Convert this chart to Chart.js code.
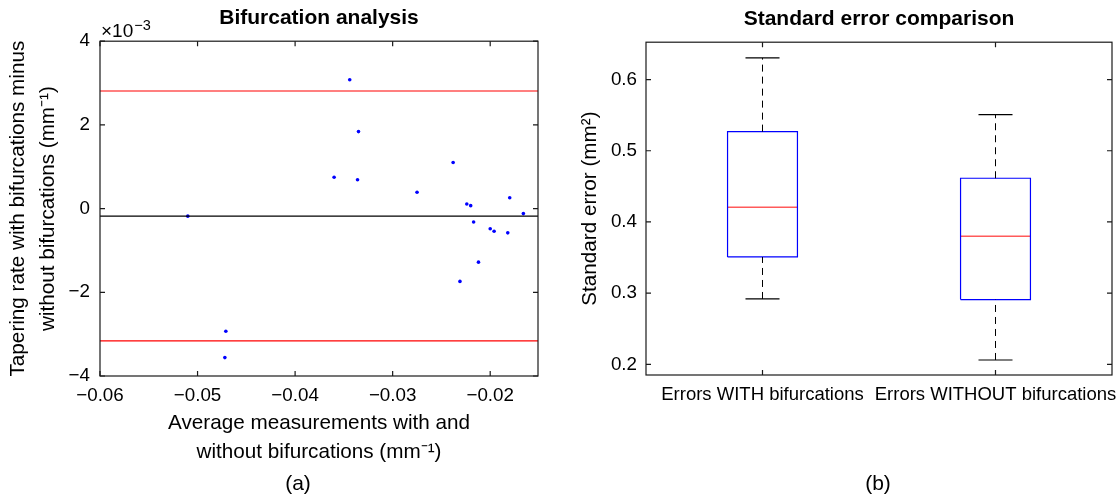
<!DOCTYPE html>
<html lang="en">
<head>
<meta charset="UTF-8">
<title>Bifurcation analysis / Standard error comparison</title>
<script src="https://cdn.jsdelivr.net/npm/chart.js"></script>
<style>
    body { margin: 0; background: #fff; font-family: "Liberation Sans", Arial, sans-serif; }
    .panel { position: absolute; top: 0; width: 560px; height: 500px; }
    .caption { position: absolute; top: 471px; width: 100px; text-align: center; font-size: 21px; line-height: 24px; color: #000; }
</style>
</head>
<body>
<div class="panel" style="left:0"><canvas id="diffChart" width="560" height="500"></canvas></div>
<div class="panel" style="left:560px"><canvas id="errChart" width="560" height="500"></canvas></div>
<div class="caption" style="left:248px">(a)</div>
<div class="caption" style="left:828px">(b)</div>
<script>
// (a) tapering rate differences vs average, y in units of 1e-3
const avgMeasure = [-0.0510, -0.0344, -0.0335, -0.0360, -0.0336, -0.0275, -0.0238, -0.0224, -0.0220, -0.0180,
                    -0.0166, -0.0217, -0.0200, -0.0196, -0.0182, -0.0212, -0.0231, -0.0471, -0.0472];
const tapeDiff = [-0.18, 3.08, 1.84, 0.75, 0.69, 0.39, 1.10, 0.11, 0.07, 0.26,
                  -0.12, -0.32, -0.48, -0.54, -0.58, -1.28, -1.74, -2.93, -3.56];
const meanDiff = -0.18;
const upperLimit = 2.81;
const lowerLimit = -3.16;
const xRangeA = [-0.06, -0.0151];
const xTicksA = [-0.06, -0.05, -0.04, -0.03, -0.02];
const yTicksA = [-4, -2, 0, 2, 4];

// (b) boxplot summary
const boxLabels = ['Errors WITH bifurcations', 'Errors WITHOUT bifurcations'];
const whiskerLow = [0.2918, 0.2061];
const quart1 = [0.3508, 0.2909];
const median = [0.4206, 0.3799];
const quart3 = [0.5269, 0.4614];
const whiskerHigh = [0.6304, 0.5508];
const yTicksB = [0.2, 0.3, 0.4, 0.5, 0.6];

Chart.defaults.font.family = '"Liberation Sans", Arial, Helvetica, sans-serif';
Chart.defaults.color = '#000';

const tickFont = { size: 18.8 };
const labelSize = 20.7;
const minus = s => String(s).replace('-', '\u2212');

// keep the plot box where we want it, labels may hang over the edge
function fixHeight(h) {
    return s => { s.height = h; s.paddingLeft = 0; s.paddingRight = 0; };
}

// box with inward ticks on all four sides (matlab look)
const framePlugin = {
    id: 'frame',
    afterDatasetsDraw(chart) {
        const { ctx, chartArea: a, scales } = chart;
        const len = 5;
        ctx.save();
        ctx.strokeStyle = '#1a1a1a';
        ctx.lineWidth = 1.2;
        ctx.strokeRect(a.left, a.top, a.right - a.left, a.bottom - a.top);
        ctx.beginPath();
        scales.x.ticks.forEach(t => {
            const px = scales.x.getPixelForValue(t.value);
            ctx.moveTo(px, a.bottom); ctx.lineTo(px, a.bottom - len);
            ctx.moveTo(px, a.top); ctx.lineTo(px, a.top + len);
        });
        scales.y.ticks.forEach(t => {
            const py = scales.y.getPixelForValue(t.value);
            ctx.moveTo(a.left, py); ctx.lineTo(a.left + len, py);
            ctx.moveTo(a.right, py); ctx.lineTo(a.right - len, py);
        });
        ctx.stroke();
        ctx.restore();
    }
};

const exponentPlugin = {
    id: 'exponent',
    afterDraw(chart) {
        const { ctx, chartArea: a } = chart;
        ctx.save();
        ctx.fillStyle = '#000';
        ctx.textBaseline = 'alphabetic';
        ctx.font = '19px "Liberation Sans", Arial, sans-serif';
        ctx.fillText('\u00d710', a.left + 1, 37);
        const w = ctx.measureText('\u00d710').width;
        ctx.font = '14.5px "Liberation Sans", Arial, sans-serif';
        ctx.fillText('\u22123', a.left + 2 + w, 30);
        ctx.restore();
    }
};

function hLine(y, color, width) {
    return {
        data: [{ x: xRangeA[0], y: y }, { x: xRangeA[1], y: y }],
        showLine: true, borderColor: color, borderWidth: width, pointRadius: 0
    };
}

new Chart(document.getElementById('diffChart'), {
    type: 'scatter',
    data: {
        datasets: [
            hLine(upperLimit, '#ff0000', 1.2),
            hLine(lowerLimit, '#ff0000', 1.2),
            hLine(meanDiff, '#000000', 1.2),
            {
                data: avgMeasure.map((x, i) => ({ x: x, y: tapeDiff[i] })),
                pointRadius: 1.8, pointBackgroundColor: '#0000ff', pointBorderWidth: 0
            }
        ]
    },
    options: {
        responsive: false,
        animation: false,
        layout: { padding: { left: 0, right: 22, top: 0, bottom: 0 } },
        plugins: {
            legend: { display: false },
            tooltip: { enabled: false },
            title: {
                display: true, text: 'Bifurcation analysis', fullSize: false,
                font: { size: 21, weight: 'bold' }, padding: { top: 6, bottom: 10 }
            }
        },
        scales: {
            x: {
                type: 'linear', min: xRangeA[0], max: xRangeA[1],
                afterBuildTicks: s => { s.ticks = xTicksA.map(v => ({ value: v })); },
                afterFit: fixHeight(124),
                grid: { display: false, drawTicks: false },
                border: { display: false },
                ticks: { padding: 9, maxRotation: 0, autoSkip: false, font: tickFont, callback: v => minus(v.toFixed(2)) },
                title: {
                    display: true,
                    text: ['Average measurements with and', 'without bifurcations (mm\u207b\u00b9)'],
                    font: { size: labelSize, lineHeight: 29 / labelSize },
                    padding: { top: 0, bottom: 33.5 }
                }
            },
            y: {
                type: 'linear', min: -4, max: 4,
                afterBuildTicks: s => { s.ticks = yTicksA.map(v => ({ value: v })); },
                afterFit: s => { s.width = 100; },
                grid: { display: false, drawTicks: false },
                border: { display: false },
                ticks: { padding: 10, font: tickFont, callback: v => minus(v) },
                title: {
                    display: true,
                    text: ['Tapering rate with bifurcations minus', 'without bifurcations (mm\u207b\u00b9)'],
                    font: { size: labelSize, lineHeight: 30.3 / labelSize },
                    padding: { top: 3.2, bottom: 0 }
                }
            }
        }
    },
    plugins: [framePlugin, exponentPlugin]
});

// boxplot pieces as line segments on a linear x axis (categories at 1, 2)
const boxHalf = 0.15, capHalf = 0.073;
function seg(points, color, width, dash) {
    return {
        data: points.map(p => ({ x: p[0], y: p[1] })),
        showLine: true, borderColor: color, borderWidth: width,
        borderDash: dash || [], pointRadius: 0, tension: 0
    };
}
const boxSets = [];
boxLabels.forEach((lbl, i) => {
    const c = i + 1;
    boxSets.push(
        seg([[c, quart3[i]], [c, whiskerHigh[i]]], '#000', 1, [7, 5]),
        seg([[c, whiskerLow[i]], [c, quart1[i]]], '#000', 1, [7, 5]),
        seg([[c - capHalf, whiskerHigh[i]], [c + capHalf, whiskerHigh[i]]], '#000', 1.2),
        seg([[c - capHalf, whiskerLow[i]], [c + capHalf, whiskerLow[i]]], '#000', 1.2),
        seg([[c - boxHalf, quart1[i]], [c + boxHalf, quart1[i]], [c + boxHalf, quart3[i]],
             [c - boxHalf, quart3[i]], [c - boxHalf, quart1[i]]], '#0000ff', 1.2),
        seg([[c - boxHalf, median[i]], [c + boxHalf, median[i]]], '#ff5a5a', 1.6)
    );
});

new Chart(document.getElementById('errChart'), {
    type: 'scatter',
    data: { datasets: boxSets },
    options: {
        responsive: false,
        animation: false,
        layout: { padding: { left: 0, right: 8, top: 0, bottom: 0 } },
        plugins: {
            legend: { display: false },
            tooltip: { enabled: false },
            title: {
                display: true, text: 'Standard error comparison', fullSize: false,
                font: { size: 21, weight: 'bold' }, padding: { top: 7, bottom: 10 }
            }
        },
        scales: {
            x: {
                type: 'linear', min: 0.5, max: 2.5,
                afterBuildTicks: s => { s.ticks = boxLabels.map((l, i) => ({ value: i + 1 })); },
                afterFit: fixHeight(125),
                grid: { display: false, drawTicks: false },
                border: { display: false },
                ticks: { padding: 9, maxRotation: 0, autoSkip: false, font: { size: 18.5 }, callback: v => boxLabels[Math.round(v) - 1] }
            },
            y: {
                type: 'linear', min: 0.185, max: 0.6525,
                afterBuildTicks: s => { s.ticks = yTicksB.map(v => ({ value: v })); },
                afterFit: s => { s.width = 86; },
                grid: { display: false, drawTicks: false },
                border: { display: false },
                ticks: { padding: 9, font: tickFont, callback: v => v.toFixed(1) },
                title: {
                    display: true, text: 'Standard error (mm\u00b2)',
                    font: { size: labelSize }, padding: { top: 18, bottom: 0 }
                }
            }
        }
    },
    plugins: [framePlugin]
});
</script>
</body>
</html>
